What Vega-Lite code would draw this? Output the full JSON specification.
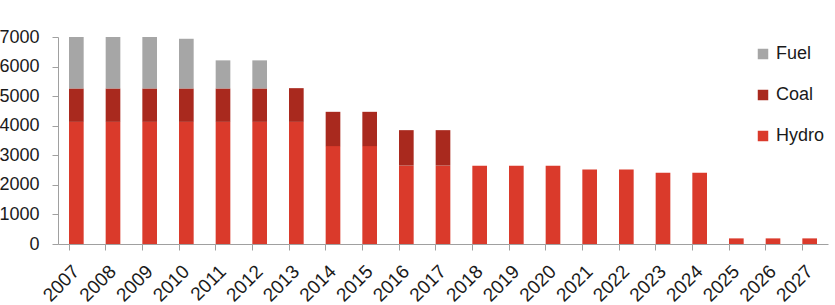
{
  "$schema": "https://vega.github.io/schema/vega-lite/v6.json",
  "autosize": "none",
  "width": 770,
  "height": 207,
  "padding": {"left": 58, "top": 37, "right": 7, "bottom": 61},
  "background": "white",
  "config": {
    "view": {"stroke": null},
    "font": "Liberation Sans"
  },
  "data": {
    "values": [
      {"year": "2007", "source": "Hydro", "rank": 1, "mw": 4130},
      {"year": "2008", "source": "Hydro", "rank": 1, "mw": 4130},
      {"year": "2009", "source": "Hydro", "rank": 1, "mw": 4130},
      {"year": "2010", "source": "Hydro", "rank": 1, "mw": 4130},
      {"year": "2011", "source": "Hydro", "rank": 1, "mw": 4130},
      {"year": "2012", "source": "Hydro", "rank": 1, "mw": 4130},
      {"year": "2013", "source": "Hydro", "rank": 1, "mw": 4130},
      {"year": "2014", "source": "Hydro", "rank": 1, "mw": 3310},
      {"year": "2015", "source": "Hydro", "rank": 1, "mw": 3310},
      {"year": "2016", "source": "Hydro", "rank": 1, "mw": 2650},
      {"year": "2017", "source": "Hydro", "rank": 1, "mw": 2650},
      {"year": "2018", "source": "Hydro", "rank": 1, "mw": 2650},
      {"year": "2019", "source": "Hydro", "rank": 1, "mw": 2650},
      {"year": "2020", "source": "Hydro", "rank": 1, "mw": 2650},
      {"year": "2021", "source": "Hydro", "rank": 1, "mw": 2520},
      {"year": "2022", "source": "Hydro", "rank": 1, "mw": 2520},
      {"year": "2023", "source": "Hydro", "rank": 1, "mw": 2410},
      {"year": "2024", "source": "Hydro", "rank": 1, "mw": 2410},
      {"year": "2025", "source": "Hydro", "rank": 1, "mw": 190},
      {"year": "2026", "source": "Hydro", "rank": 1, "mw": 190},
      {"year": "2027", "source": "Hydro", "rank": 1, "mw": 190},
      {"year": "2007", "source": "Coal", "rank": 2, "mw": 1130},
      {"year": "2008", "source": "Coal", "rank": 2, "mw": 1130},
      {"year": "2009", "source": "Coal", "rank": 2, "mw": 1130},
      {"year": "2010", "source": "Coal", "rank": 2, "mw": 1130},
      {"year": "2011", "source": "Coal", "rank": 2, "mw": 1130},
      {"year": "2012", "source": "Coal", "rank": 2, "mw": 1130},
      {"year": "2013", "source": "Coal", "rank": 2, "mw": 1140},
      {"year": "2014", "source": "Coal", "rank": 2, "mw": 1160},
      {"year": "2015", "source": "Coal", "rank": 2, "mw": 1160},
      {"year": "2016", "source": "Coal", "rank": 2, "mw": 1200},
      {"year": "2017", "source": "Coal", "rank": 2, "mw": 1200},
      {"year": "2007", "source": "Fuel", "rank": 3, "mw": 1740},
      {"year": "2008", "source": "Fuel", "rank": 3, "mw": 1740},
      {"year": "2009", "source": "Fuel", "rank": 3, "mw": 1740},
      {"year": "2010", "source": "Fuel", "rank": 3, "mw": 1680},
      {"year": "2011", "source": "Fuel", "rank": 3, "mw": 950},
      {"year": "2012", "source": "Fuel", "rank": 3, "mw": 950}
    ]
  },
  "mark": {"type": "bar"},
  "encoding": {
    "x": {
      "field": "year",
      "type": "nominal",
      "scale": {"paddingInner": 0.6, "paddingOuter": 0.3},
      "axis": {
        "title": null,
        "labelAngle": -45,
        "labelAlign": "right",
        "labelBaseline": "middle",
        "labelFontSize": 19,
        "labelColor": "#1a1a1a",
        "labelPadding": 18,
        "bandPosition": 0,
        "tickSize": 6,
        "tickColor": "#a0a0a0",
        "domainColor": "#a0a0a0",
        "grid": false
      }
    },
    "y": {
      "field": "mw",
      "type": "quantitative",
      "aggregate": "sum",
      "stack": "zero",
      "scale": {"domain": [0, 7000], "nice": false},
      "axis": {
        "title": null,
        "values": [0, 1000, 2000, 3000, 4000, 5000, 6000, 7000],
        "format": "d",
        "labelFontSize": 18,
        "labelColor": "#1a1a1a",
        "labelPadding": 13,
        "ticks": true,
        "tickSize": 6,
        "tickColor": "#a0a0a0",
        "domainColor": "#a0a0a0",
        "grid": false
      }
    },
    "color": {
      "field": "source",
      "type": "nominal",
      "scale": {"domain": ["Fuel", "Coal", "Hydro"], "range": ["#a6a6a6", "#a9291e", "#da3a2b"]},
      "legend": {
        "title": null,
        "orient": "none",
        "legendX": 696,
        "legendY": 8,
        "symbolType": "square",
        "symbolSize": 110,
        "symbolStrokeWidth": 0,
        "labelFontSize": 18,
        "labelColor": "#1a1a1a",
        "labelOffset": 4,
        "rowPadding": 23
      }
    },
    "order": {"field": "rank", "type": "quantitative", "sort": "ascending"}
  }
}
